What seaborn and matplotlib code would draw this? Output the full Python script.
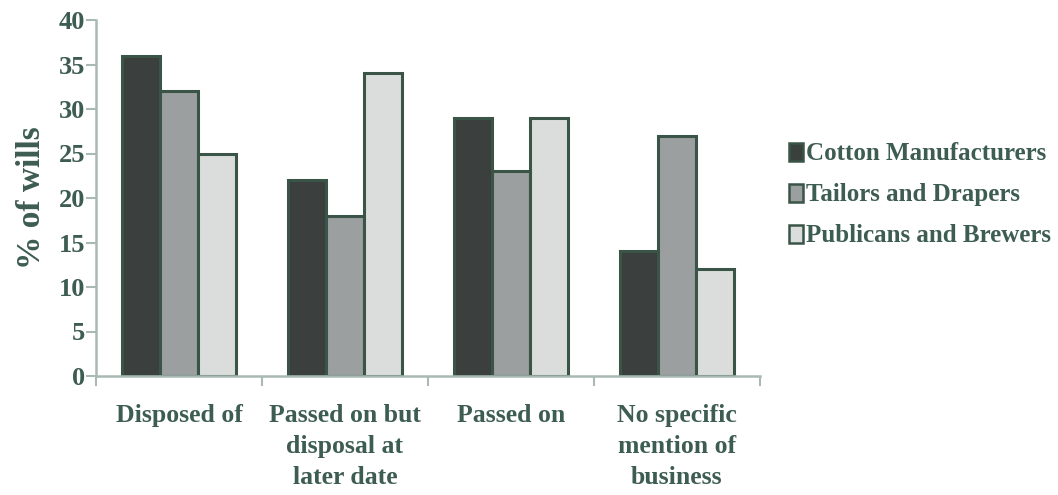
import matplotlib
matplotlib.use("Agg")
import matplotlib.pyplot as plt
import seaborn as sns
import pandas as pd
from matplotlib.patches import Patch

# Fate of the business, by occupational group
categories = ["Disposed of", "Passed on but\ndisposal at\nlater date", "Passed on",
              "No specific\nmention of\nbusiness"]
series = ["Cotton Manufacturers", "Tailors and Drapers", "Publicans and Brewers"]
cotton = [36, 22, 29, 14]
tailors = [32, 18, 23, 27]
publicans = [25, 34, 29, 12]
yticks = [0, 5, 10, 15, 20, 25, 30, 35, 40]

rows = []
for name, vals in zip(series, [cotton, tailors, publicans]):
    for cat, v in zip(categories, vals):
        rows.append({"category": cat, "group": name, "value": v})
df = pd.DataFrame(rows)

sns.set_theme(style="white")
plt.rcParams["font.family"] = ["Liberation Serif", "DejaVu Serif"]
plt.rcParams["font.weight"] = "bold"

text_col = "#3d5c52"
edge_col = "#3a5447"
spine_col = "#a9bab2"
fills = ["#3a403e", "#9b9f9f", "#d9dddc"]

fig = plt.figure(figsize=(10.58, 4.95), dpi=100)
ax = fig.add_axes([96 / 1058, (495 - 376) / 495, (760 - 96) / 1058, (376 - 20) / 495])

sns.barplot(data=df, x="category", y="value", hue="group", hue_order=series,
            order=categories, palette=fills, width=0.69, gap=0.0,
            edgecolor=edge_col, linewidth=2.2, legend=False, ax=ax)

ax.set_ylim(0, 40)
ax.set_xlim(-0.5, 3.5)
ax.set_yticks(yticks)
ax.set_yticklabels([str(t) for t in yticks], fontsize=19, fontweight="bold", color=text_col)

# boundary ticks between categories, labels centred under each group
ax.set_xticks([-0.5, 0.5, 1.5, 2.5, 3.5])
ax.set_xticklabels([])
ax.set_xticks(range(len(categories)), minor=True)
ax.set_xticklabels(categories, minor=True, fontsize=18.5, fontweight="bold",
                   color=text_col, linespacing=1.45, va="top")
ax.tick_params(axis="x", which="major", direction="out", length=7, width=1.5,
               color=spine_col, bottom=True)
ax.tick_params(axis="x", which="minor", length=0, pad=20)
ax.tick_params(axis="y", direction="out", length=7, width=1.5, color=spine_col,
               left=True, pad=1)

for s in ["top", "right"]:
    ax.spines[s].set_visible(False)
for s in ["left", "bottom"]:
    ax.spines[s].set_color(spine_col)
    ax.spines[s].set_linewidth(1.8)

ax.set_xlabel("")
ax.set_ylabel("% of wills", fontsize=24, fontweight="bold", color=text_col, labelpad=8)

handles = [Patch(facecolor=c, edgecolor=edge_col, linewidth=1.8) for c in fills]
leg = fig.legend(handles, series, loc="center left",
                 bbox_to_anchor=(789 / 1058, 1 - 195 / 495), frameon=False,
                 borderpad=0, borderaxespad=0,
                 handlelength=0.55, handleheight=0.7, handletextpad=0.15,
                 labelspacing=0.72, prop={"size": 18, "weight": "bold"})
for t in leg.get_texts():
    t.set_color(text_col)

fig.savefig("out.png", dpi=100)
